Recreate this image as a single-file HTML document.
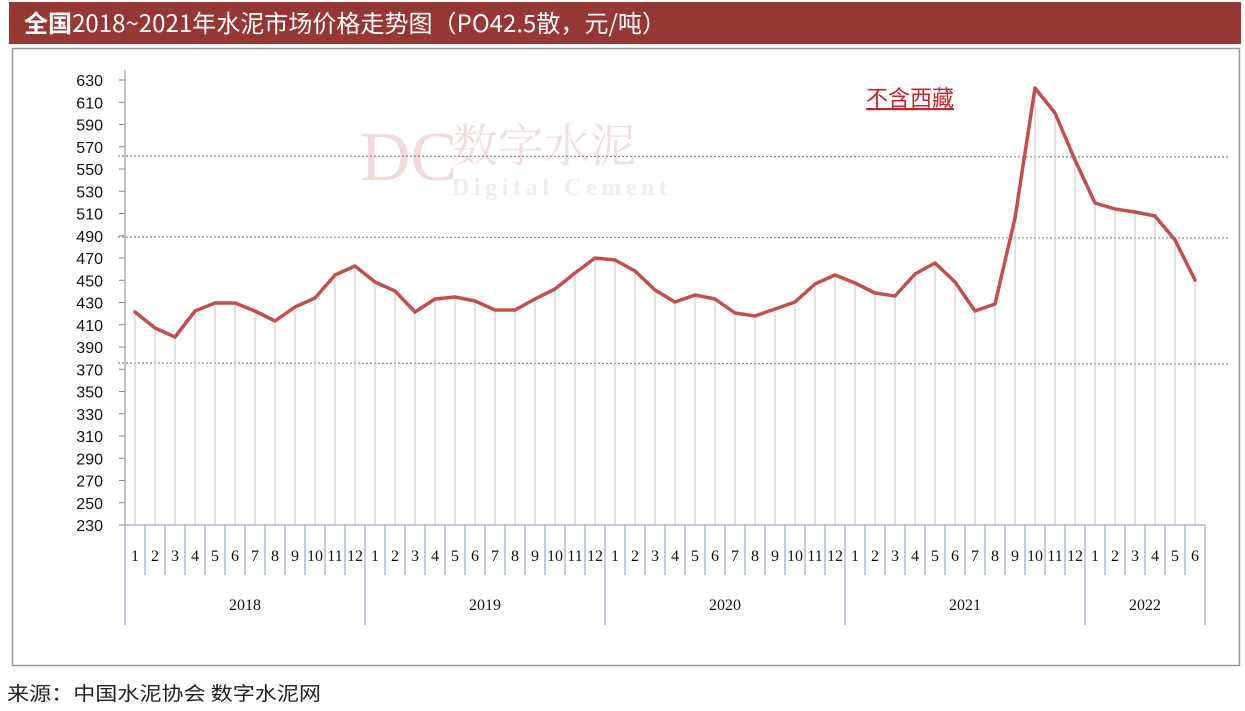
<!DOCTYPE html><html><head><meta charset="utf-8"><style>
body{margin:0;width:1245px;height:706px;background:#fff;overflow:hidden;font-family:"Liberation Sans","Noto Sans CJK SC",sans-serif}
</style></head><body>
<svg id="s" width="1245" height="706" xmlns="http://www.w3.org/2000/svg">
<rect x="9" y="2" width="1232" height="42" fill="#963735"/>
<text x="24" y="32" fill="#fff" font-size="24" font-family="'Noto Sans CJK SC',sans-serif" textLength="642" lengthAdjust="spacingAndGlyphs"><tspan font-weight="bold">全国</tspan>2018~2021年水泥市场价格走势图（PO42.5散，元/吨）</text>
<rect x="12.5" y="48.5" width="1227" height="617" fill="none" stroke="#999" stroke-width="1.5"/>
<text x="7" y="700" font-size="19" fill="#222" font-family="'Noto Sans CJK SC',sans-serif" textLength="314" lengthAdjust="spacingAndGlyphs">来源：中国水泥协会  数字水泥网</text>
<text x="360" y="180" font-size="70" fill="#f0dada" font-family="'Liberation Serif',serif">DC</text>
<text x="452" y="162" font-size="46" fill="#f2dede" font-family="'Noto Serif CJK SC',serif">数字水泥</text>
<text x="452" y="195" font-size="24" fill="#eee" font-weight="bold" font-family="'Liberation Serif',serif" letter-spacing="3" textLength="218">Digital Cement</text>
<text x="866" y="106" font-size="22" fill="#c0282c" text-decoration="underline" font-family="'Noto Sans CJK SC',sans-serif">不含西藏</text>
<g id="g"></g>
</svg>
<script>
var g=document.getElementById('g'),h='';
var ys=[312,328,337,311,303,303,311,321,307,298,275,266,282,291,312,299,297,301,310,310,299,289,273,258,260,271,290,302,295,299,313,316,309,302,284,275,283,293,296,274,263,282,311,304,218,88,113,160,203,209,212,216,240,280];
function Y(v){return 525-(v-230)*1.1125;}
[156,237,363].forEach(function(y){h+='<line x1="118" y1="'+y+'" x2="1230" y2="'+(y+1)+'" stroke="#888" stroke-width="1.2" stroke-dasharray="2,2"/>';});
h+='<line x1="125" y1="70" x2="125" y2="525" stroke="#888"/>';
for(var v=230;v<=630;v+=20){var y=Y(v);h+='<line x1="119" y1="'+y+'" x2="125" y2="'+y+'" stroke="#888"/><text x="103" y="'+(y+6)+'" font-size="16" text-anchor="end" fill="#111">'+v+'</text>';}
var pts=[];
for(var i=0;i<54;i++){var x=135+20*i;pts.push(x+','+ys[i]);h+='<line x1="'+x+'" y1="'+ys[i]+'" x2="'+x+'" y2="525" stroke="#c4c4c4" stroke-width="1"/>';}
h+='<line x1="125" y1="525" x2="1205" y2="525" stroke="#aabbd8" stroke-width="1.5"/>';
var yrs=['2018','2019','2020','2021','2022'];
for(var i=0;i<=54;i++){var x=125+20*i;var big=(i%12==0)||i==54;h+='<line x1="'+x+'" y1="525" x2="'+x+'" y2="'+(big?625:575)+'" stroke="#aabbd8" stroke-width="1.5"/>';
if(i<54)h+='<text x="'+(x+10)+'" y="561" font-size="16" text-anchor="middle" font-family="Liberation Serif,serif" fill="#111">'+(i%12+1)+'</text>';}
for(var k=0;k<5;k++){var x0=125+240*k,x1=Math.min(x0+240,1205);h+='<text x="'+((x0+x1)/2)+'" y="610" font-size="16" text-anchor="middle" font-family="Liberation Serif,serif" fill="#111">'+yrs[k]+'</text>';}
h+='<polyline points="'+pts.join(' ')+'" fill="none" stroke="#c0504d" stroke-width="3.5" stroke-linejoin="round" stroke-linecap="round"/>';
g.innerHTML=h;
</script>
</body></html>
